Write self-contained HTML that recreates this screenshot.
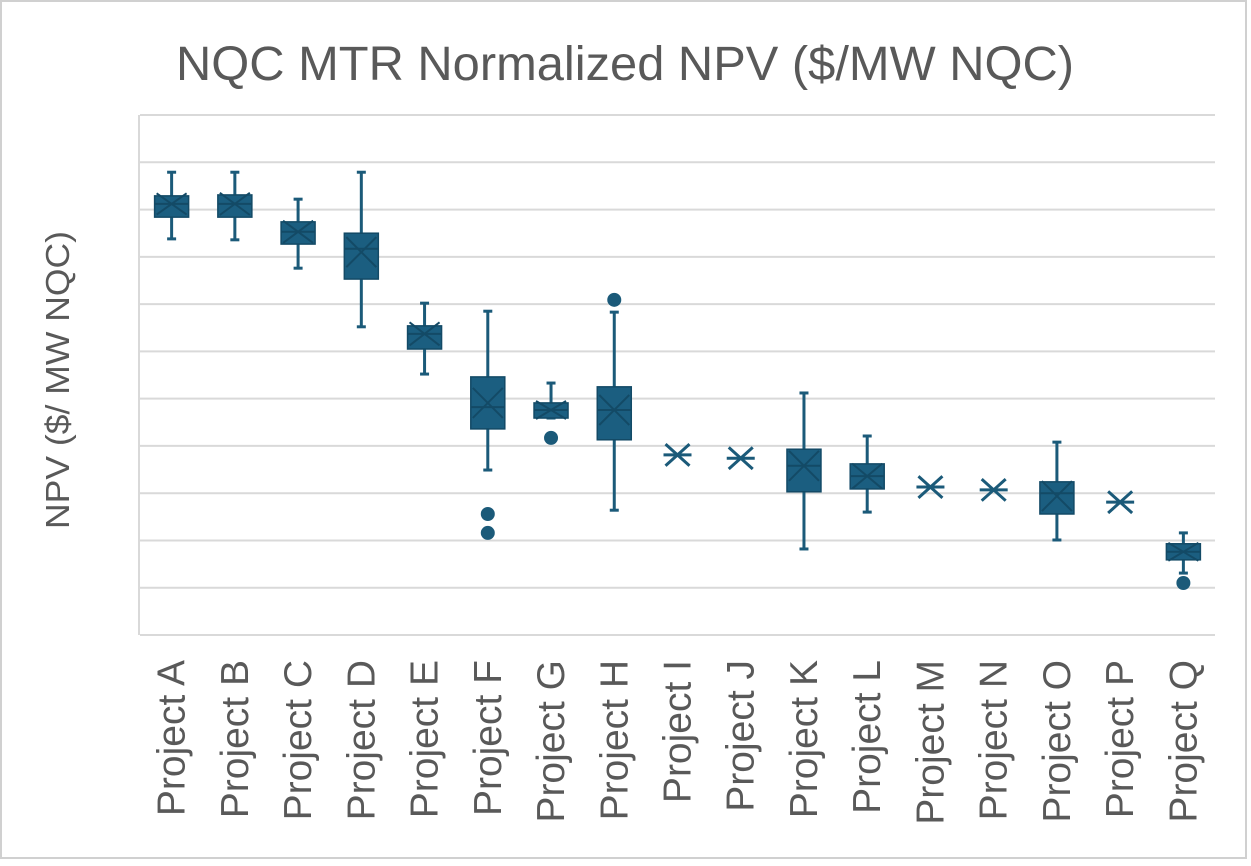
<!DOCTYPE html>
<html><head><meta charset="utf-8"><style>
html,body{margin:0;padding:0;background:#fff;}
svg{display:block;font-family:"Liberation Sans",sans-serif;}
</style></head><body>
<svg id="chart" width="1251" height="866" viewBox="0 0 1251 866" xmlns="http://www.w3.org/2000/svg">
<rect x="1" y="1" width="1245" height="857" fill="#fff" stroke="#d0d0d0" stroke-width="2"/>
<text x="625" y="80" text-anchor="middle" font-size="48" textLength="898" lengthAdjust="spacingAndGlyphs" fill="#595959">NQC MTR Normalized NPV ($/MW NQC)</text>
<text transform="translate(69,380) rotate(-90)" text-anchor="middle" font-size="33" textLength="298" lengthAdjust="spacingAndGlyphs" fill="#595959">NPV ($/ MW NQC)</text>
<g id="grid"></g>
<g id="xlabels"></g>
<g id="marks"></g>
</svg>
<script>
const categories=["Project A","Project B","Project C","Project D","Project E","Project F","Project G","Project H","Project I","Project J","Project K","Project L","Project M","Project N","Project O","Project P","Project Q"];
const maxVals=[9.79,9.79,9.22,9.79,7.02,6.85,5.33,6.83,null,null,5.12,4.21,null,null,4.08,null,2.16];
const q3Vals=[9.29,9.31,8.74,8.50,6.54,5.46,4.91,5.25,null,null,3.93,3.62,null,null,3.24,null,1.93];
const medianVals=[9.12,9.12,8.53,8.17,6.37,4.82,4.76,4.76,null,null,3.58,3.36,null,null,3.00,null,1.76];
const q1Vals=[8.84,8.84,8.27,7.53,6.05,4.36,4.59,4.13,null,null,3.03,3.09,null,null,2.56,null,1.59];
const minVals=[8.38,8.36,7.76,6.52,5.52,3.49,4.59,2.64,null,null,1.82,2.60,null,null,2.01,null,1.31];
const meanVals=[9.12,9.12,8.53,8.10,6.37,4.91,4.76,4.76,3.81,3.74,3.58,3.36,3.13,3.07,2.94,2.81,1.76];
const outlierVals=[[],[],[],[],[],[2.56,2.16],[4.17],[7.09],[],[],[],[],[],[],[],[],[1.10]];
const yTicks=[0,1,2,3,4,5,6,7,8,9,10,11];

const NS="http://www.w3.org/2000/svg";
const X0=140,X1=1215,Y0=635,UNIT=47.27;
const band=(X1-X0)/categories.length;
function xScale(i){return X0+band*(i+0.5);}
function yScale(v){return Y0-v*UNIT;}
function mk(tag,attrs,parent){const e=document.createElementNS(NS,tag);for(const k in attrs)e.setAttribute(k,attrs[k]);parent.appendChild(e);return e;}
const C="#1b5a79",F="#1b5e80";
const grid=document.getElementById('grid');
yTicks.forEach(t=>{
  const l=mk('line',{x1:X0,x2:X1,y1:yScale(t),y2:yScale(t),stroke:'#d9d9d9','stroke-width':2},grid);
  
  
});
const ax=mk('line',{x1:X0-1,x2:X0-1,y1:yScale(11),y2:Y0,stroke:'#d9d9d9','stroke-width':2},grid);


const xl=document.getElementById('xlabels');
categories.forEach((c,i)=>{
  const t=mk('text',{transform:`translate(${xScale(i)+13},660) rotate(-90)`,'text-anchor':'end','font-size':39,fill:'#595959'},xl);
  t.textContent=c;
  
  
});
const marks=document.getElementById('marks');
const BW=34,CAP=9;
function xMark(g,cx,cy,r){
  mk('line',{x1:cx-r,y1:cy-r*0.9,x2:cx+r,y2:cy+r*0.9,stroke:C,'stroke-width':3},g);
  mk('line',{x1:cx-r,y1:cy+r*0.9,x2:cx+r,y2:cy-r*0.9,stroke:C,'stroke-width':3},g);
  mk('line',{x1:cx-r-2,y1:cy,x2:cx+r+2,y2:cy,stroke:C,'stroke-width':3},g);
}
categories.forEach((c,i)=>{
  const g=mk('g',{},marks);
  
  
  const cx=xScale(i);
  if(maxVals[i]!==null){
    mk('line',{x1:cx,x2:cx,y1:yScale(maxVals[i]),y2:yScale(minVals[i]),stroke:C,'stroke-width':3},g);
    mk('line',{x1:cx-CAP/2,x2:cx+CAP/2,y1:yScale(maxVals[i]),y2:yScale(maxVals[i]),stroke:C,'stroke-width':3},g);
    mk('line',{x1:cx-CAP/2,x2:cx+CAP/2,y1:yScale(minVals[i]),y2:yScale(minVals[i]),stroke:C,'stroke-width':3},g);
    const yt=yScale(q3Vals[i]),yb=yScale(q1Vals[i]);
    mk('rect',{x:cx-BW/2,y:yt,width:BW,height:yb-yt,fill:F,stroke:'#134a66','stroke-width':1.5},g);
    mk('line',{x1:cx-BW/2,x2:cx+BW/2,y1:yScale(medianVals[i]),y2:yScale(medianVals[i]),stroke:'#134a66','stroke-width':2},g);
    const r=Math.max(9,Math.min(15,(yb-yt)/2));
    mk('line',{x1:cx-BW/2+2,y1:yScale(meanVals[i])-r,x2:cx+BW/2-2,y2:yScale(meanVals[i])+r,stroke:'#134a66','stroke-width':2},g);
    mk('line',{x1:cx-BW/2+2,y1:yScale(meanVals[i])+r,x2:cx+BW/2-2,y2:yScale(meanVals[i])-r,stroke:'#134a66','stroke-width':2},g);
  } else {
    xMark(g,cx,yScale(meanVals[i]),12);
  }
  outlierVals[i].forEach(v=>{
    const o=mk('circle',{cx:cx,cy:yScale(v),r:7,fill:C},g);
    
    
  });
});
</script>
</body></html>
